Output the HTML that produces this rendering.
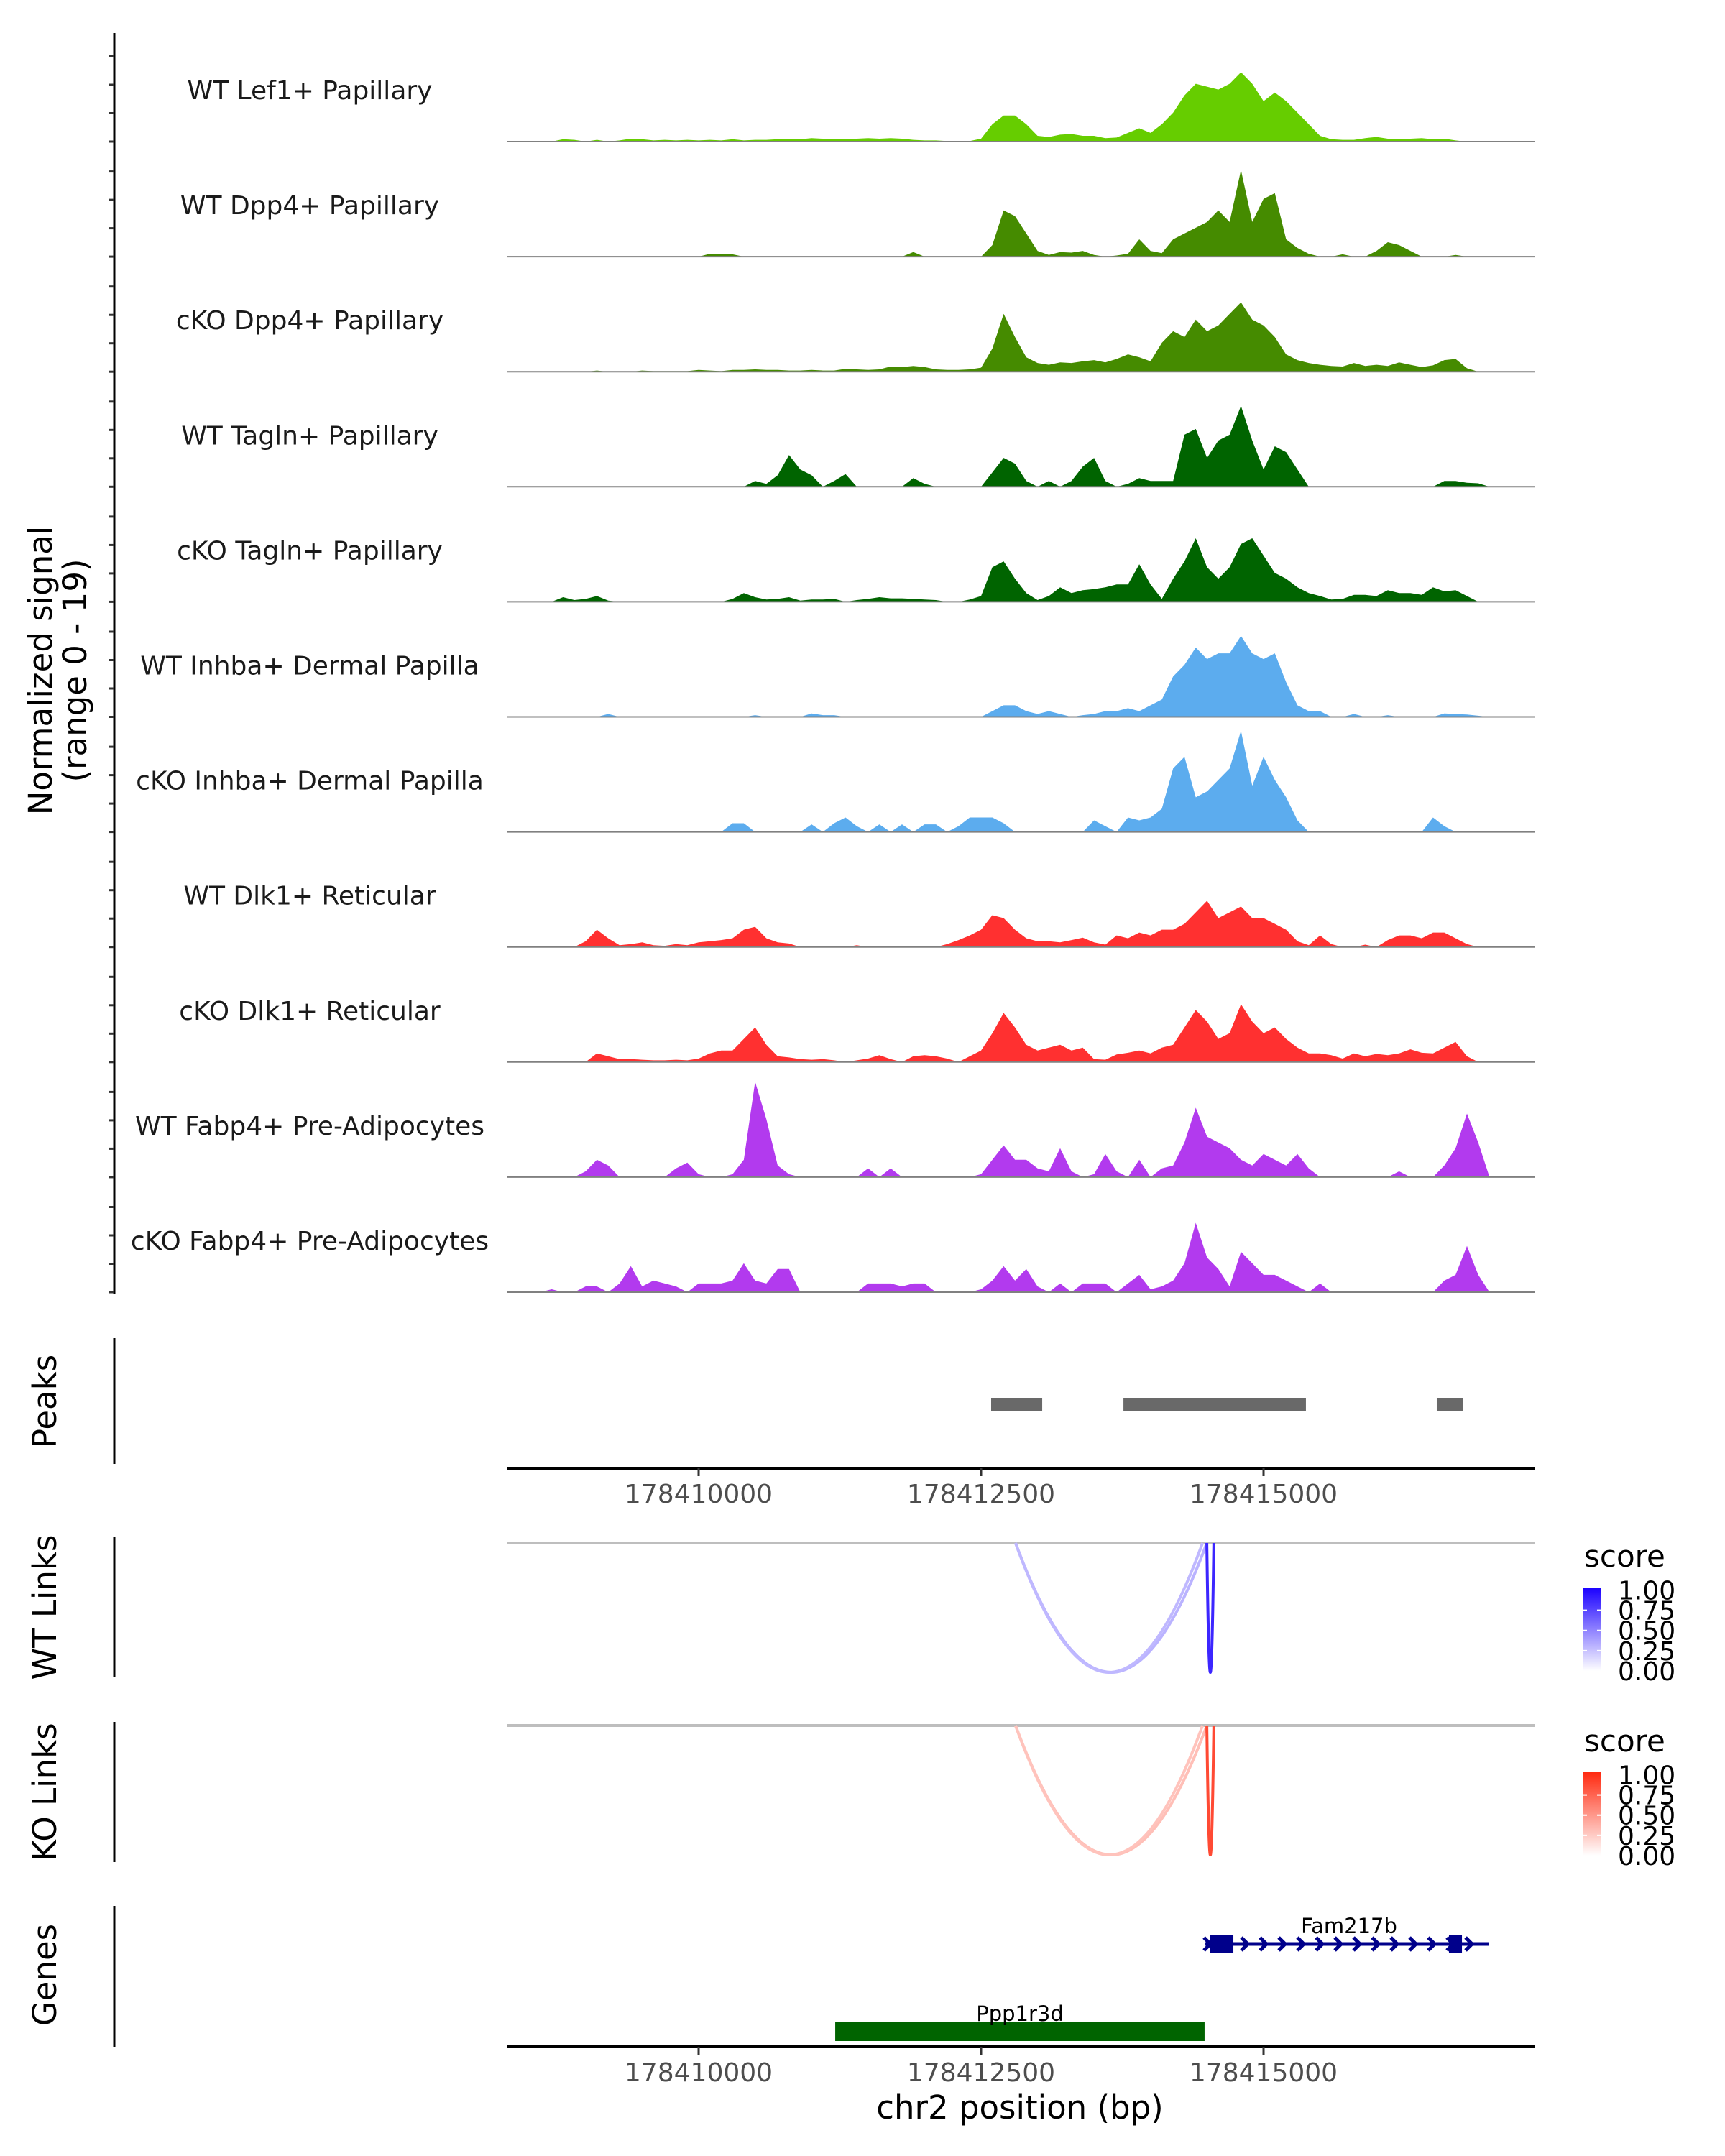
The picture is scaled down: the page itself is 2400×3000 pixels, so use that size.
<!DOCTYPE html>
<html><head><meta charset="utf-8">
<style>
html,body{margin:0;padding:0;background:#fff;}
svg{display:block;font-family:"DejaVu Sans","Liberation Sans",sans-serif;}
</style></head>
<body>
<svg id="chart" width="2400" height="3000" viewBox="0 0 2400 3000" xmlns="http://www.w3.org/2000/svg">
<rect width="2400" height="3000" fill="#fff"/>
</svg>
<script>
const binStart = 178408600;
const binWidth = 100;
const trackNames = ["WT Lef1+ Papillary","WT Dpp4+ Papillary","cKO Dpp4+ Papillary","WT Tagln+ Papillary","cKO Tagln+ Papillary","WT Inhba+ Dermal Papilla","cKO Inhba+ Dermal Papilla","WT Dlk1+ Reticular","cKO Dlk1+ Reticular","WT Fabp4+ Pre-Adipocytes","cKO Fabp4+ Pre-Adipocytes"];
const trackColors = ["#66CD00","#458B00","#458B00","#006400","#006400","#5CACEE","#5CACEE","#FF3030","#FF3030","#B23AEE","#B23AEE"];
const sigLef1WT = [0,0,0.4,0.3,0,0.3,0,0.2,0.5,0.4,0.2,0.3,0.2,0.3,0.2,0.3,0.2,0.4,0.2,0.3,0.3,0.4,0.5,0.4,0.6,0.5,0.4,0.5,0.5,0.6,0.5,0.6,0.5,0.3,0.2,0.2,0.1,0.1,0.1,0.5,3,4.5,4.5,3,1,0.8,1.2,1.3,1,1,0.6,0.7,1.5,2.3,1.5,3,5,8,10,9.5,9,10,12,10,7,8.5,7,5,3,1,0.4,0.3,0.3,0.6,0.8,0.5,0.4,0.5,0.6,0.4,0.5,0.2,0,0,0];
const sigDpp4WT = [0,0,0,0,0,0,0,0,0,0,0,0,0,0,0,0.5,0.5,0.4,0,0,0,0,0,0,0,0,0,0,0,0,0,0,0,0.8,0,0,0,0,0,0,2,8,7,4,1,0.3,0.8,0.7,1,0.3,0,0.2,0.5,3,1,0.6,3,4,5,6,8,6,15,6,10,11,3,1.5,0.5,0,0,0.4,0,0,1,2.5,2,1,0,0,0,0.3,0,0,0];
const sigDpp4KO = [0,0,0,0,0,0.2,0,0,0,0.2,0.1,0.1,0.1,0.1,0.3,0.2,0.1,0.3,0.3,0.4,0.3,0.3,0.2,0.2,0.3,0.2,0.2,0.5,0.4,0.3,0.4,0.9,0.8,1,0.8,0.4,0.3,0.3,0.4,0.7,4,10,6,2.5,1.5,1.2,1.6,1.5,1.8,2,1.6,2.2,3,2.5,1.8,5,7,6,9,7,8,10,12,9,8,6,3,2,1.5,1.2,1,0.9,1.5,1,1.2,1,1.6,1.2,0.8,1.1,2,2.2,0.6,0,0];
const sigTaglnWT = [0,0,0,0,0,0,0,0,0,0,0,0,0,0,0,0,0,0,0,1,0.5,2,5.5,3,2,0,1,2.2,0,0,0,0,0,1.5,0.5,0,0,0,0,0,2.5,5,4,1,0,1,0,1,3.5,5,1,0,0.5,1.5,1,1,1,9,10,5,8,9,14,8,3,7,6,3,0,0,0,0,0,0,0,0,0,0,0,0,1,1,0.7,0.6,0];
const sigTaglnKO = [0,0,0.8,0.3,0.5,1,0.2,0,0,0,0,0,0,0,0,0,0,0.5,1.5,0.8,0.4,0.5,0.8,0.2,0.4,0.4,0.5,0,0.3,0.5,0.8,0.6,0.6,0.5,0.4,0.3,0,0,0.4,1,6,7,4,1.5,0.3,1,2.5,1.5,2,2.2,2.5,3,3,6.5,3,0.5,4,7,11,6,4,6,10,11,8,5,4,2.5,1.5,1,0.4,0.5,1.2,1.2,1,2,1.5,1.5,1.2,2.5,1.8,2,1,0,0];
const sigInhbaWT = [0,0,0,0,0,0,0.5,0,0,0,0,0,0,0,0,0,0,0,0,0.3,0,0,0,0,0.6,0.3,0.3,0,0,0,0,0,0,0,0,0,0,0,0,0,1,2,2,1,0.5,1,0.5,0,0.3,0.5,1,1,1.5,1,2,3,7,9,12,10,11,11,14,11,10,11,6,2,1,1,0,0,0.5,0,0,0.3,0,0,0,0,0.6,0.5,0.4,0.2,0];
const sigInhbaKO = [0,0,0,0,0,0,0,0,0,0,0,0,0,0,0,0,0,1.5,1.5,0,0,0,0,0,1.3,0,1.5,2.5,1,0,1.3,0,1.3,0,1.3,1.3,0,1,2.5,2.5,2.5,1.5,0,0,0,0,0,0,0,2,1,0,2.5,2,2.5,4,11,13,6,7,9,11,17.5,8,13,9,6,2,0,0,0,0,0,0,0,0,0,0,0,2.5,1,0,0,0,0];
const sigDlk1WT = [0,0,0,0,1,3,1.5,0.3,0.5,0.8,0.3,0.2,0.5,0.3,0.8,1,1.2,1.5,3,3.5,1.5,0.8,0.6,0,0,0,0,0,0.3,0,0,0,0,0,0,0,0.5,1.2,2,3,5.5,5,3,1.5,1,1,0.8,1.2,1.6,0.8,0.4,2,1.5,2.5,2,3,3,4,6,8,5,6,7,5,5,4,3,1,0.3,2,0.5,0,0,0.4,0,1.2,2,2,1.5,2.5,2.5,1.5,0.5,0,0];
const sigDlk1KO = [0,0,0,0,0,1.5,1,0.5,0.5,0.4,0.3,0.3,0.4,0.3,0.6,1.5,2,2,4,6,3,1,0.8,0.5,0.4,0.5,0.3,0,0.3,0.6,1.2,0.5,0,1,1.2,1,0.6,0,1,2,5,8.5,6,3,2,2.5,3,2,2.5,0.5,0.4,1.3,1.6,2,1.5,2.5,3,6,9,7,4,5,10,7,5,6,4,2.5,1.5,1.5,1.2,0.6,1.5,1,1.4,1.2,1.5,2.2,1.6,1.5,2.5,3.5,1,0,0];
const sigFabp4WT = [0,0,0,0,1,3,2,0,0,0,0,0,1.5,2.5,0.5,0,0,0.5,3,16.5,10,2,0.5,0,0,0,0,0,0,1.5,0,1.5,0,0,0,0,0,0,0,0.5,3,5.5,3,3,1.5,1,5,1,0,0.5,4,1,0,3,0,1.5,2,6,12,7,6,5,3,2,4,3,2,4,1.5,0,0,0,0,0,0,0,1,0,0,0,2,5,11,6,0];
const sigFabp4KO = [0,0.5,0,0,1,1,0,1.5,4.5,1,2,1.5,1,0,1.5,1.5,1.5,2,5,2,1.5,4,4,0,0,0,0,0,0,1.5,1.5,1.5,1,1.5,1.5,0,0,0,0,0.5,2,4.5,2,4,1,0,1.5,0,1.5,1.5,1.5,0,1.5,3,0.5,1,2,5,12,6,4,1,7,5,3,3,2,1,0,1.5,0,0,0,0,0,0,0,0,0,0,2,3,8,3,0];
const signals = [sigLef1WT,sigDpp4WT,sigDpp4KO,sigTaglnWT,sigTaglnKO,sigInhbaWT,sigInhbaKO,sigDlk1WT,sigDlk1KO,sigFabp4WT,sigFabp4KO];
const xTicks = [178410000,178412500,178415000];
const peakStarts = [178412589,178413760,178416533];
const peakEnds = [178413041,178415375,178416768];
const linkStarts = [178412805,178412805,178414498];
const linkEnds = [178414498,178414460,178414560];
const linkScores = [0.3,0.28,0.85];
const legendTicks = [0,0.25,0.5,0.75,1];
const legendLabels = ["0.00","0.25","0.50","0.75","1.00"];
const geneNames = ["Fam217b","Ppp1r3d"];
const geneStarts = [178414485,178411209];
const geneEnds = [178416991,178414478];
const exonStarts = [178414529,178416641];
const exonEnds = [178414733,178416756];

const NS="http://www.w3.org/2000/svg";
const svg=document.getElementById('chart');
const X=p=>972+(p-178410000)*393/2500;
const plotL=705, plotR=2135;
const base0=197, trackStep=160.1, unitH=8.04;
function el(tag,attrs,parent){const e=document.createElementNS(NS,tag);for(const k in attrs)e.setAttribute(k,attrs[k]);(parent||svg).appendChild(e);return e;}
function txt(s,attrs,parent){const t=el('text',attrs,parent);t.textContent=s;return t;}
function hex(c){return [1,3,5].map(i=>parseInt(c.substr(i,2),16));}
function mix(a,b,t){const A=hex(a),B=hex(b);return 'rgb('+A.map((v,i)=>Math.round(v+(B[i]-v)*t)).join(',')+')';}

const ax=el('line',{x1:159,y1:46,x2:159,y2:1800,stroke:'#000','stroke-width':3});


for(let i=0;i<11;i++){
  const b=base0+i*trackStep;
  for(let j=0;j<4;j++){
    const y=b-j*39.5;
    const tk=el('line',{x1:151,y1:y,x2:158,y2:y,stroke:'#333','stroke-width':3});
    
    
  }
}
const yt=txt('',{transform:'translate(80,933) rotate(-90)','text-anchor':'middle','font-size':45,fill:'#000'});


const ts1=el('tspan',{x:0,dy:-8},yt);ts1.textContent='Normalized signal';
const ts2=el('tspan',{x:0,dy:48},yt);ts2.textContent='(range 0 - 19)';

for(let i=0;i<11;i++){
  const b=base0+i*trackStep;
  const g=el('g',{});
  
  
  const vals=signals[i];
  let d='M'+X(binStart)+','+b;
  for(let k=0;k<vals.length;k++){
    const x=X(binStart+k*binWidth);
    d+=' L'+x.toFixed(1)+','+(b-vals[k]*unitH).toFixed(1);
  }
  d+=' L'+X(binStart+(vals.length-1)*binWidth).toFixed(1)+','+b+' Z';
  const a=el('path',{d:d,fill:trackColors[i],stroke:'none'},g);
  
  
  const bl=el('line',{x1:plotL,y1:b,x2:plotR,y2:b,stroke:'#808080','stroke-width':2},g);
  
  
  const lb=txt(trackNames[i],{x:431,y:b-59,'text-anchor':'middle','font-size':36,fill:'#1a1a1a'},g);
  
  
}

const pa=el('line',{x1:159,y1:1862,x2:159,y2:2037,stroke:'#000','stroke-width':3});


const pt=txt('Peaks',{transform:'translate(78,1950) rotate(-90)','text-anchor':'middle','font-size':45});


for(let i=0;i<peakStarts.length;i++){
  const r=el('rect',{x:X(peakStarts[i]),y:1945,width:X(peakEnds[i])-X(peakStarts[i]),height:18,fill:'#696969'});
  
  
}
function xAxis(y,name){
  const g=el('g',{});
  
  
  el('line',{x1:plotL,y1:y,x2:plotR,y2:y,stroke:'#000','stroke-width':4},g);
  xTicks.forEach(t=>{
    el('line',{x1:X(t),y1:y,x2:X(t),y2:y+11,stroke:'#333','stroke-width':3},g);
    const tl=txt(String(t),{x:X(t),y:y+48,'text-anchor':'middle','font-size':36,fill:'#4d4d4d'},g);
    
    
  });
}
xAxis(2043,'peaks-x-axis');

function linksPanel(top,bottom,lineY,title,colHi,legY,name){
  const g=el('g',{});
  
  
  el('line',{x1:159,y1:top,x2:159,y2:bottom,stroke:'#000','stroke-width':3},g);
  const tt=txt(title,{transform:'translate(78,'+((top+bottom)/2)+') rotate(-90)','text-anchor':'middle','font-size':45},g);
  
  
  el('line',{x1:plotL,y1:lineY,x2:plotR,y2:lineY,stroke:'#bebebe','stroke-width':4},g);
  const arcBottom=lineY+180;
  for(let i=0;i<linkStarts.length;i++){
    const x0=X(linkStarts[i]),x1=X(linkEnds[i]);
    const c=2*arcBottom-lineY;
    const col=mix('#ffffff',colHi,linkScores[i]);
    const p=el('path',{d:'M'+x0+','+lineY+' Q'+((x0+x1)/2)+','+c+' '+x1+','+lineY,fill:'none',stroke:col,'stroke-width':4},g);
    
    
  }
  const st=txt('score',{x:2204,y:legY,'font-size':42},g);
  
  
  const gid='grad-'+name;
  const defs=el('defs',{},g);
  const lg=el('linearGradient',{id:gid,x1:0,y1:1,x2:0,y2:0},defs);
  el('stop',{offset:0,'stop-color':'#ffffff'},lg);
  el('stop',{offset:1,'stop-color':colHi},lg);
  const cbTop=legY+29, cbH=116;
  const cb=el('rect',{x:2203,y:cbTop,width:24,height:cbH,fill:'url(#'+gid+')'},g);
  
  
  legendTicks.forEach((v,k)=>{
    const y=cbTop+cbH-v*cbH*0.97;
    if(v>0&&v<1){
      el('line',{x1:2203,y1:y,x2:2208,y2:y,stroke:'#fff','stroke-width':2},g);
      el('line',{x1:2222,y1:y,x2:2227,y2:y,stroke:'#fff','stroke-width':2},g);
    }
    const l=txt(legendLabels[k],{x:2251,y:y+13,'font-size':36},g);
    
    
  });
}
linksPanel(2139,2334,2147,'WT Links','#1a00ff',2180,'wt-links');
linksPanel(2396,2591,2401,'KO Links','#ff2a10',2437,'ko-links');

(function(){
  const g=el('g',{});
  
  
  el('line',{x1:159,y1:2652,x2:159,y2:2848,stroke:'#000','stroke-width':3},g);
  const tt=txt('Genes',{transform:'translate(78,2748) rotate(-90)','text-anchor':'middle','font-size':45},g);
  
  
  const y1=2705;
  const ln=el('line',{x1:X(geneStarts[0]),y1:y1,x2:X(geneEnds[0]),y2:y1,stroke:'#00008B','stroke-width':5},g);
  
  
  for(let x=X(geneStarts[0])+4;x<=X(geneEnds[0]);x+=26){
    el('path',{d:'M'+(x-6)+','+(y1-9)+' L'+(x+3)+','+y1+' L'+(x-6)+','+(y1+9),fill:'none',stroke:'#00008B','stroke-width':5},g);
  }
  for(let i=0;i<exonStarts.length;i++){
    const r=el('rect',{x:X(exonStarts[i]),y:y1-13,width:X(exonEnds[i])-X(exonStarts[i]),height:26,fill:'#00008B'},g);
    
    
  }
  const l1=txt(geneNames[0],{x:1877,y:2690,'text-anchor':'middle','font-size':29},g);
  
  
  const r2=el('rect',{x:X(geneStarts[1]),y:2814,width:X(geneEnds[1])-X(geneStarts[1]),height:26,fill:'#006400'},g);
  
  
  const l2=txt(geneNames[1],{x:1419,y:2812,'text-anchor':'middle','font-size':29},g);
  
  
})();
xAxis(2848,'genes-x-axis');
const xt=txt('chr2 position (bp)',{x:1419,y:2948,'text-anchor':'middle','font-size':45});


</script>
</body></html>
